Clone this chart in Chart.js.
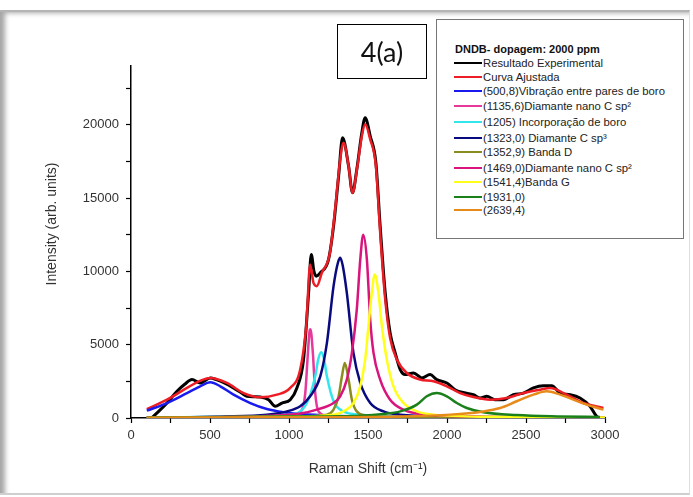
<!DOCTYPE html>
<html>
<head>
<meta charset="utf-8">
<title>DNDB - dopagem 2000 ppm</title>
<script src="https://cdn.jsdelivr.net/npm/chart.js@4.4.0/dist/chart.umd.min.js"></script>
<style>
    html, body { margin: 0; padding: 0; background: #fff; }
    body { width: 693px; height: 497px; position: relative; overflow: hidden; font-family: Arial, "Liberation Sans", sans-serif; }
    .marco { position: absolute; left: 0; top: 10px; width: 690px; height: 485px; box-sizing: border-box;
             border-top: 2px solid #b4b4b4; border-bottom: 2px solid #cfcfcf; border-right: 1px solid #dedede;
             box-shadow: inset 7px 3px 5px -2px rgba(0, 0, 0, 0.35); }
    #grafico { position: absolute; left: 0; top: 0; }
    .etiqueta { position: absolute; left: 337px; top: 24px; width: 90px; height: 55px; box-sizing: border-box;
                border: 1px solid #000; font-family: Lato, "Open Sans", sans-serif; font-size: 27px;
                line-height: 53px; text-align: center; color: #111; }
    .leyenda { position: absolute; left: 436px; top: 19px; width: 248px; height: 220px; box-sizing: border-box;
               border: 1px solid #777; background: #fff; }
    .leyenda .titulo { position: absolute; left: 18px; top: 23px; font-size: 11px; font-weight: bold; line-height: 12px; color: #111; }
    .leyenda .fila { position: absolute; left: 17px; height: 12px; font-size: 11.3px; line-height: 12px; color: #222; white-space: nowrap; }
    .leyenda .linea { display: inline-block; width: 28px; height: 2px; vertical-align: middle; margin-right: 1px; position: relative; top: -1px; }
</style>
</head>
<body>
<div class="marco"></div>
<canvas id="grafico" width="693" height="497"></canvas>
<div class="etiqueta">4(a)</div>
<div class="leyenda" id="leyenda">
    <div class="titulo">DNDB- dopagem: 2000 ppm</div>
</div>

<script>
// Datos (x = Raman shift, y = intensidad)
const expX = [130, 180, 228, 291, 340, 386, 438, 502, 544, 600, 649, 700, 734, 780, 818, 871, 913, 955, 1008, 1050, 1092, 1124, 1141, 1158, 1173, 1198, 1250, 1282, 1314, 1339, 1377, 1402, 1429, 1461, 1482, 1514, 1550, 1577, 1609, 1640, 1672, 1704, 1735, 1788, 1841, 1893, 1935, 1999, 2051, 2115, 2167, 2210, 2252, 2304, 2357, 2420, 2484, 2547, 2610, 2663, 2716, 2779, 2842, 2905, 2947, 2970]
const expY = [0, 500, 1020, 1820, 2300, 2620, 2390, 2730, 2600, 2350, 2050, 1700, 1480, 1450, 1430, 1250, 800, 1020, 1250, 2050, 3980, 8530, 11150, 10000, 9670, 9900, 10800, 13080, 16500, 19100, 17180, 15360, 16950, 19450, 20480, 19220, 17400, 13080, 8530, 5800, 4440, 3300, 2960, 3070, 2730, 2960, 2620, 2390, 1930, 1700, 1590, 1365, 1480, 1250, 1250, 1590, 1700, 2050, 2200, 2200, 1700, 1590, 1365, 800, 110, 0]

const fitX = [100, 228, 354, 430, 502, 607, 713, 818, 923, 1008, 1071, 1109, 1134, 1155, 1176, 1208, 1257, 1292, 1324, 1345, 1377, 1402, 1433, 1461, 1482, 1514, 1550, 1577, 1609, 1640, 1683, 1746, 1830, 1914, 1999, 2083, 2167, 2273, 2378, 2484, 2589, 2652, 2758, 2863, 2990]
const fitY = [610, 1250, 2050, 2500, 2730, 2390, 1700, 1410, 1590, 2050, 3300, 6260, 10470, 9210, 8990, 9900, 11150, 14220, 17630, 18770, 17180, 15360, 17180, 19220, 20020, 19000, 17180, 12630, 8080, 5460, 3980, 3070, 2620, 2500, 2160, 1700, 1430, 1250, 1365, 1700, 1930, 2050, 1590, 1020, 680]

const p500X = [100, 228, 354, 438, 502, 565, 649, 755, 860, 966, 1071, 1282, 1600, 2000, 2500, 3000]
const p500Y = [500, 1020, 1700, 2160, 2430, 2160, 1590, 1020, 610, 390, 270, 160, 90, 60, 40, 30]

const p1135X = [100, 800, 1000, 1071, 1103, 1117, 1130, 1136, 1151, 1166, 1187, 1250, 1400, 2000, 3000]
const p1135Y = [10, 60, 150, 400, 1700, 3980, 5900, 6050, 4440, 1700, 450, 150, 60, 20, 10]

const p1205X = [100, 800, 1000, 1113, 1166, 1185, 1204, 1222, 1240, 1282, 1345, 1450, 2000, 3000]
const p1205Y = [20, 120, 230, 1020, 2840, 4000, 4480, 4000, 2840, 1140, 450, 230, 40, 15]

const p1323X = [100, 600, 860, 987, 1071, 1134, 1198, 1240, 1282, 1310, 1324, 1340, 1366, 1408, 1451, 1514, 1598, 1704, 2000, 2500, 3000]
const p1323Y = [30, 100, 230, 450, 800, 1480, 2840, 5120, 8990, 10600, 10920, 10400, 8530, 4440, 2390, 1020, 450, 230, 100, 50, 30]

const p1353X = [100, 1000, 1240, 1282, 1314, 1335, 1353, 1377, 1398, 1429, 1493, 1700, 3000]
const p1353Y = [10, 60, 230, 570, 1480, 2840, 3750, 2620, 1250, 450, 160, 60, 10]

const p1469X = [100, 800, 1071, 1176, 1282, 1324, 1366, 1398, 1429, 1451, 1470, 1493, 1514, 1535, 1577, 1640, 1725, 1830, 2200, 3000]
const p1469Y = [30, 120, 300, 570, 1020, 1480, 2620, 4440, 7390, 10800, 12500, 10800, 6710, 4440, 2620, 1250, 570, 270, 100, 40]

const p1541X = [100, 1000, 1282, 1345, 1408, 1451, 1482, 1503, 1524, 1543, 1566, 1588, 1619, 1661, 1725, 1809, 1914, 2300, 3000]
const p1541Y = [20, 100, 230, 450, 1020, 2160, 3980, 6260, 8530, 9780, 8530, 6260, 3980, 2160, 1020, 450, 230, 80, 30]

const p1931X = [100, 1000, 1451, 1598, 1704, 1809, 1872, 1935, 1999, 2062, 2125, 2230, 2441, 2700, 2968]
const p1931Y = [30, 100, 160, 270, 450, 910, 1480, 1700, 1480, 1020, 680, 390, 200, 110, 70]

const p2639X = [100, 860, 1704, 2020, 2230, 2336, 2441, 2547, 2631, 2716, 2800, 2884, 2990]
const p2639Y = [20, 50, 110, 230, 450, 680, 1140, 1590, 1820, 1590, 1250, 910, 570]

// Marcas de los ejes (las menores sin etiqueta)
const xTicks = [0, 250, 500, 750, 1000, 1250, 1500, 1750, 2000, 2250, 2500, 2750, 3000]
const yTicks = [0, 2500, 5000, 7500, 10000, 12500, 15000, 17500, 20000, 22500]

const names = [
    'Resultado Experimental',
    'Curva Ajustada',
    '(500,8)Vibração entre pares de boro',
    '(1135,6)Diamante nano C sp²',
    '(1205) Incorporação de boro',
    '(1323,0) Diamante C sp³',
    '(1352,9) Banda D',
    '(1469,0)Diamante nano C sp²',
    '(1541,4)Banda G',
    '(1931,0)',
    '(2639,4)'
]
const xs = [expX, fitX, p500X, p1135X, p1205X, p1323X, p1353X, p1469X, p1541X, p1931X, p2639X]
const ys = [expY, fitY, p500Y, p1135Y, p1205Y, p1323Y, p1353Y, p1469Y, p1541Y, p1931Y, p2639Y]

// Estilos
const colors = ['#000000', '#ee1c24', '#1a1aee', '#e6399b', '#33e6ee', '#0a0a80', '#8c8c1e', '#d9157d', '#ffff1a', '#1a801a', '#e68a1a']
const legendRows = [37, 51, 65, 80, 96, 112, 126, 142, 156, 171, 184]

Chart.defaults.font.family = 'Arial, "Liberation Sans", sans-serif'
Chart.defaults.color = '#333'

// Leyenda en HTML
const leyenda = document.getElementById('leyenda')
names.forEach((name, i) => {
    const fila = document.createElement('div')
    fila.className = 'fila'
    fila.style.top = legendRows[i] + 'px'
    fila.innerHTML = '<span class="linea" style="background:' + colors[i] + '"></span>' + name
    leyenda.appendChild(fila)
})

// Título del eje Y
const tituloY = {
    id: 'tituloY',
    afterDraw(chart) {
        const ctx = chart.ctx
        ctx.save()
        ctx.translate(52, 224)
        ctx.rotate(-Math.PI / 2)
        ctx.font = '14px Arial, "Liberation Sans", sans-serif'
        ctx.fillStyle = '#333'
        ctx.textAlign = 'center'
        ctx.textBaseline = 'middle'
        ctx.fillText('Intensity (arb. units)', 0, 0)
        ctx.restore()
    }
}

const datasets = names.map((name, i) => ({
    label: name,
    data: xs[i].map((x, j) => ({ x, y: ys[i][j] })),
    showLine: true,
    borderColor: colors[i],
    backgroundColor: colors[i],
    borderWidth: i === 0 ? 3 : 2.5,
    pointRadius: 0,
    cubicInterpolationMode: 'monotone',
    order: names.length - i
}))

new Chart('grafico', {
    type: 'scatter',
    data: { datasets },
    options: {
        responsive: false,
        animation: false,
        layout: { padding: { top: 66, right: 88, left: 0, bottom: 0 } },
        plugins: {
            legend: { display: false },
            tooltip: { enabled: false }
        },
        scales: {
            x: {
                type: 'linear',
                min: 0,
                max: 3000,
                afterBuildTicks: scale => { scale.ticks = xTicks.map(v => ({ value: v })) },
                afterFit: scale => { scale.height = 79 },
                border: { color: '#000', width: 1.5 },
                grid: { drawOnChartArea: false, tickLength: 5, color: '#000', tickWidth: 1.2 },
                ticks: {
                    padding: 5,
                    maxRotation: 0,
                    autoSkip: false,
                    font: { size: 13 },
                    callback: v => v % 500 === 0 ? v : ''
                },
                title: { display: true, text: 'Raman Shift (cm⁻¹)', font: { size: 14 }, padding: { bottom: 19 } }
            },
            y: {
                type: 'linear',
                min: 0,
                max: 24000,
                afterBuildTicks: scale => { scale.ticks = yTicks.map(v => ({ value: v })) },
                afterFit: scale => { scale.width = 131 },
                border: { color: '#000', width: 1.5 },
                grid: { drawOnChartArea: false, tickLength: 5, color: '#000', tickWidth: 1.2 },
                ticks: {
                    padding: 7,
                    autoSkip: false,
                    font: { size: 13 },
                    callback: v => v % 5000 === 0 ? v : ''
                }
            }
        }
    },
    plugins: [tituloY]
})
</script>
</body>
</html>
